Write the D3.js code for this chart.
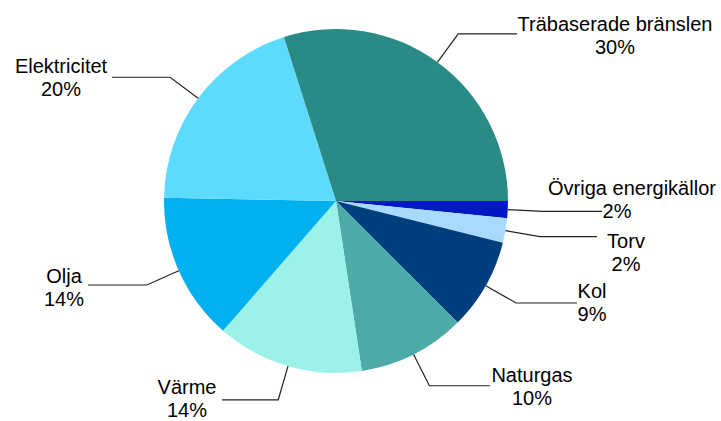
<!DOCTYPE html>
<html>
<head>
<meta charset="utf-8">
<script src="https://cdn.jsdelivr.net/npm/d3@7"></script>
<style>
  body { margin: 0; background: #fff; }
  text { font-family: "Liberation Sans", Arial, sans-serif; font-size: 20px; fill: #000; }
</style>
</head>
<body>
<div id="chart"></div>
<script>
// slices in clockwise order, starting at 3 o'clock
const categories = ["Övriga energikällor", "Torv", "Kol", "Naturgas", "Värme", "Olja", "Elektricitet", "Träbaserade bränslen"];
const shares = [1.6, 2.3, 8.6, 10.1, 13.8, 13.9, 19.8, 29.9];
const colors = ["#0019c4", "#a8d9ff", "#003f7d", "#4eaaa8", "#9af2e9", "#00b0ef", "#5cdbfe", "#2a8a86"];

// label placement: text centre x, first baseline y, where the leader ends
const labelPos = [
  { x: 632, y: 195, x2: 617, end: 602 },
  { x: 626, y: 248, end: 597 },
  { x: 592, y: 298, end: 577 },
  { x: 532, y: 382, end: 490 },
  { x: 187, y: 394, end: 222 },
  { x: 64, y: 283, end: 88 },
  { x: 61, y: 73, end: 112 },
  { x: 615, y: 31, end: 517 },
];

const dimensions = { width: 721, height: 421, cx: 336, cy: 201, radius: 172, elbow: 207, lineHeight: 23 };

const svg = d3.select("#chart")
  .append("svg")
  .attr("width", dimensions.width)
  .attr("height", dimensions.height);

const bounds = svg.append("g")
  .attr("transform", `translate(${dimensions.cx},${dimensions.cy})`);

const pie = d3.pie()
  .sort(null)
  .value((d) => d)
  .startAngle(Math.PI / 2)
  .endAngle(Math.PI / 2 + 2 * Math.PI);

const arcs = pie(shares);

const arc = d3.arc().innerRadius(0).outerRadius(dimensions.radius);
const edgeArc = d3.arc().innerRadius(dimensions.radius).outerRadius(dimensions.radius);
const elbowArc = d3.arc().innerRadius(dimensions.elbow).outerRadius(dimensions.elbow);

bounds.selectAll("path.slice")
  .data(arcs)
  .join("path")
  .attr("class", "slice")
  .attr("d", arc)
  .attr("fill", (d, i) => colors[i]);

// leader lines
bounds.selectAll("polyline")
  .data(arcs)
  .join("polyline")
  .attr("fill", "none")
  .attr("stroke", "#222")
  .attr("stroke-width", 1.2)
  .attr("points", (d, i) => {
    const a = edgeArc.centroid(d);
    const b = elbowArc.centroid(d);
    const endX = labelPos[i].end - dimensions.cx;
    return [a, b, [endX, b[1]]].map((p) => p.join(",")).join(" ");
  });

// labels
const labels = svg.selectAll("g.label")
  .data(arcs)
  .join("g")
  .attr("class", "label");

labels.append("text")
  .attr("text-anchor", "middle")
  .attr("x", (d, i) => labelPos[i].x)
  .attr("y", (d, i) => labelPos[i].y)
  .text((d, i) => categories[i]);

labels.append("text")
  .attr("text-anchor", "middle")
  .attr("x", (d, i) => labelPos[i].x2 || labelPos[i].x)
  .attr("y", (d, i) => labelPos[i].y + dimensions.lineHeight)
  .text((d) => Math.round(d.value) + "%");
</script>
</body>
</html>
